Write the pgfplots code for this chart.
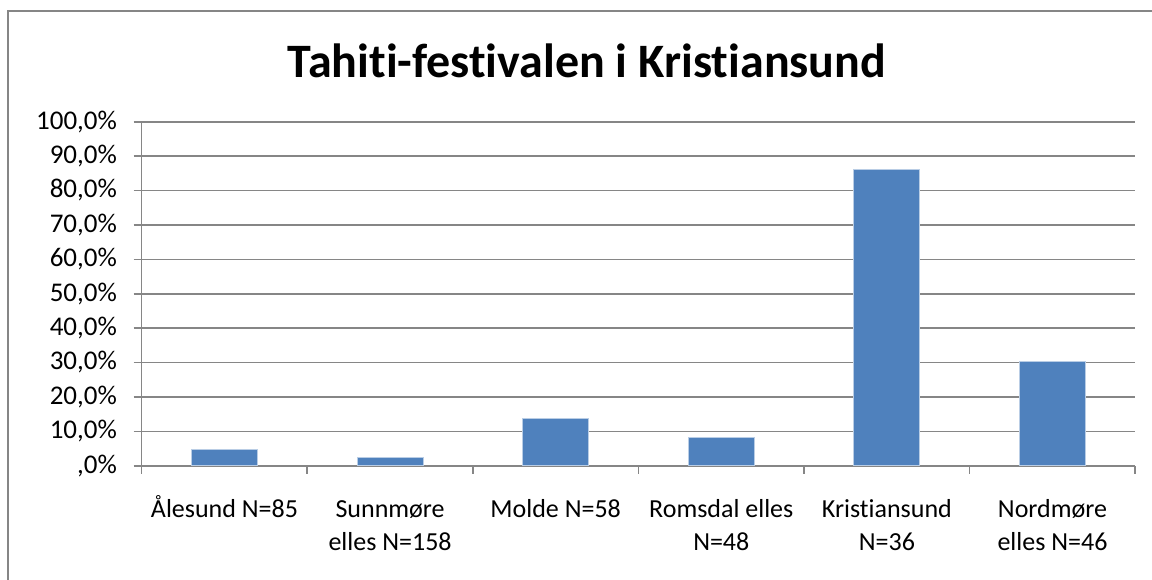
\documentclass[border=0pt]{standalone}
\usepackage{fontspec}
\setmainfont{Carlito}[Ligatures=NoCommon]
\usepackage{pgfplots}
\pgfplotsset{compat=1.18}
\definecolor{barblue}{HTML}{4F81BD}
\definecolor{baredge}{HTML}{B9CDE5}
\definecolor{gridgray}{HTML}{868686}
\begin{document}
\begin{tikzpicture}[x=1pt,y=1pt]
\useasboundingbox (-70.85,-56.65) rectangle (505.15,232.85);
\draw[gridgray, line width=1pt] (-66.85,-60) -- (-66.85,227.35) -- (510,227.35);
\node[font=\fontsize{24}{28}\selectfont\bfseries, anchor=base] at (222.65,194) {Tahiti-festivalen i Kristiansund};
\begin{axis}[
  at={(0,0)}, anchor=south west,
  scale only axis, width=496.8pt, height=172pt,
  xmin=-0.5, xmax=5.5, ymin=0, ymax=100,
  axis x line=bottom, axis y line=left,
  x axis line style={-}, y axis line style={-},
  axis line style={gridgray, line width=0.8pt},
  ybar, bar width=33pt,
  ytick={0,10,...,100},
  yticklabels={{,0\%},{10,0\%},{20,0\%},{30,0\%},{40,0\%},{50,0\%},{60,0\%},{70,0\%},{80,0\%},{90,0\%},{100,0\%}},
  ymajorgrids, grid style={gridgray, line width=0.8pt},
  xtick={0,1,2,3,4,5},
  xticklabels={{\strut Ålesund N=85},{\strut Sunnmøre\\elles N=158},{\strut Molde N=58},{\strut Romsdal elles\\N=48},{\strut Kristiansund\\N=36},{\strut Nordmøre\\elles N=46}},
  minor xtick={-0.5,0.5,1.5,2.5,3.5,4.5,5.5},
  tick align=outside,
  major tick length=4pt, minor tick length=4pt,
  tick style={gridgray, line width=0.8pt},
  major x tick style={draw=none},
  tick label style={font=\fontsize{13}{16.5}\selectfont},
  yticklabel style={font=\fontsize{13.5}{16.5}\selectfont, anchor=east, inner sep=0pt, xshift=-8.2pt},
  xticklabel style={anchor=north, inner sep=0pt, yshift=-10pt, align=center},
  /pgf/number format/assume math mode=true,
]
\addplot[fill=barblue, draw=baredge, line width=0.4pt] coordinates {(0,4.7) (1,2.5) (2,13.8) (3,8.3) (4,86.1) (5,30.4)};
\end{axis}
\end{tikzpicture}
\end{document}
